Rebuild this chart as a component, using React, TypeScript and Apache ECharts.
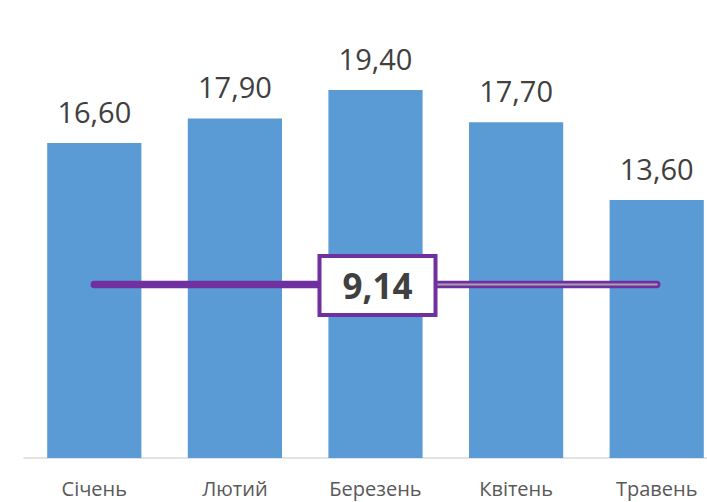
import React, { useEffect, useRef } from "react";
import * as echarts from "echarts";

const categories = ["Січень", "Лютий", "Березень", "Квітень", "Травень"];
const values = [16.6, 17.9, 19.4, 17.7, 13.6];
const targetLine = [9.14, 9.14, 9.14, 9.14, 9.14];
const targetOverlay = [null, null, 9.14, 9.14, 9.14];
const targetLabel = [null, null, 9.14, null, null];

const fmt = (v: number) => v.toFixed(2).replace(".", ",");

export default function App() {
  const ref = useRef<HTMLDivElement>(null);
  useEffect(() => {
    if (!ref.current) return;
    const chart = echarts.init(ref.current, undefined, { renderer: "svg" });
    chart.setOption({
      animation: false,
      backgroundColor: "#ffffff",
      grid: { left: 24, right: 0, top: 78.6, bottom: 44, containLabel: false },
      xAxis: {
        type: "category",
        data: categories,
        axisLine: { show: true, lineStyle: { color: "#d9d9d9", width: 1.5 } },
        axisTick: { show: false },
        axisLabel: {
          color: "#595959",
          fontSize: 20,
          fontFamily: "Open Sans",
          margin: 20,
        },
      },
      yAxis: {
        type: "value",
        min: 0,
        max: 20,
        show: false,
        splitLine: { show: false },
      },
      series: [
        {
          type: "bar",
          data: values,
          barCategoryGap: "33%",
          itemStyle: { color: "#5B9BD5" },
          z: 1,
          label: {
            show: true,
            position: "top",
            distance: 17,
            formatter: (p: any) => fmt(p.value),
            fontSize: 29,
            fontFamily: "Open Sans",
            color: "#404040",
          },
        },
        {
          type: "line",
          data: targetLine,
          symbol: "none",
          z: 2,
          lineStyle: { color: "#7030A0", width: 7.5, cap: "round" },
        },
        {
          type: "line",
          data: targetOverlay,
          symbol: "none",
          z: 3,
          lineStyle: { color: "#a8a2ae", width: 2, cap: "round" },
        },
        {
          type: "scatter",
          data: targetLabel,
          symbolSize: 0,
          z: 4,
          itemStyle: { opacity: 1 },
          label: {
            show: true,
            position: "inside",
            formatter: (p: any) => fmt(p.value),
            fontSize: 35,
            fontWeight: "bold",
            fontFamily: "Open Sans",
            color: "#404040",
            backgroundColor: "#ffffff",
            borderColor: "#7030A0",
            borderWidth: 4,
            padding: [9, 21, 11, 21],
            offset: [2, 1],
          },
        },
      ],
    });
    return () => chart.dispose();
  }, []);
  return (
    <div
      ref={ref}
      style={{ position: "fixed", left: 0, top: 0, width: 727, height: 502 }}
    />
  );
}
